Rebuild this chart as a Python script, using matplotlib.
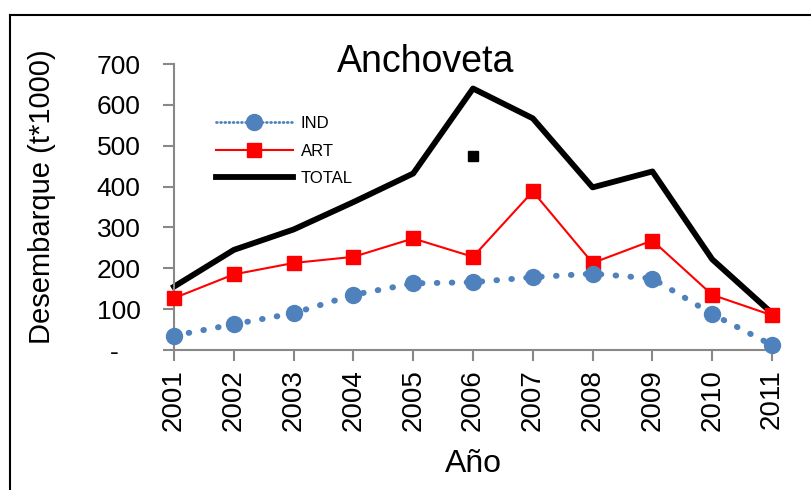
import matplotlib.pyplot as plt
from matplotlib.lines import Line2D

plt.rcParams['font.family'] = ['Liberation Sans', 'DejaVu Sans']

# datos
anios = [2001, 2002, 2003, 2004, 2005, 2006, 2007, 2008, 2009, 2010, 2011]
ind = [35, 63, 90, 135, 163, 166, 178, 187, 175, 88, 12]
art = [127, 185, 213, 228, 273, 228, 388, 213, 268, 135, 85]
total = [155, 245, 295, 362, 432, 640, 567, 398, 437, 222, 90]
punto_x = [2006]
punto_y = [475]
yticks = [0, 100, 200, 300, 400, 500, 600, 700]
ytick_labels = ['-   ', '100', '200', '300', '400', '500', '600', '700']

fig = plt.figure(figsize=(8.11, 4.9), dpi=100)
ax = fig.add_axes([174 / 811, 1 - 350 / 490, (772 - 174) / 811, (350 - 64) / 490])

# marco exterior
fig.add_artist(Line2D([10 / 811, 1], [1 - 15 / 490, 1 - 15 / 490], color='black', lw=1.5))
fig.add_artist(Line2D([10 / 811, 10 / 811], [0, 1 - 15 / 490], color='black', lw=1.5))

ax.plot(anios, total, color='black', lw=4.2, zorder=2, clip_on=False, label='TOTAL')
ax.plot(anios, art, color='#ff0000', lw=1.5, marker='s', markersize=9.5, zorder=3,
        clip_on=False, label='ART')
ax.plot(anios, ind, color='#4f81bd', lw=4.3, linestyle=(0, (0.1, 2.4)),
        dash_capstyle='round', marker='o', markersize=11.5, zorder=4,
        clip_on=False, label='IND')
ax.plot(punto_x, punto_y, 's', color='black', markersize=7, zorder=5)

ax.set_xlim(2001, 2011)
ax.set_ylim(0, 700)
ax.set_xticks(anios)
ax.set_xticklabels([str(a) for a in anios], rotation=90, fontsize=20)
ax.set_yticks(yticks)
ax.set_yticklabels(ytick_labels, fontsize=19)

for s in ['top', 'right']:
    ax.spines[s].set_visible(False)
for s in ['left', 'bottom']:
    ax.spines[s].set_color('#888888')
    ax.spines[s].set_linewidth(1.5)
ax.tick_params(axis='both', color='#888888', width=1.5, length=8, direction='out')
ax.tick_params(axis='x', pad=6)
ax.tick_params(axis='y', pad=16)

ax.set_ylabel('Desembarque (t*1000)', fontsize=21)
ax.yaxis.set_label_coords(-0.197, 0.535)
ax.set_xlabel('Año', fontsize=23, labelpad=13)
ax.set_title('Anchoveta', fontsize=27, x=0.42, y=0.943)

h, l = ax.get_legend_handles_labels()
leg = ax.legend([h[2], h[1], h[0]], [l[2], l[1], l[0]], loc='upper left',
                bbox_to_anchor=(0.045, 0.87), frameon=False, fontsize=12,
                handlelength=4.6, handletextpad=0.5, labelspacing=0.75)
leg.get_lines()[0].set_linestyle((0, (0.3, 1.2)))
leg.get_lines()[0].set_linewidth(2)

fig.savefig('out.png', dpi=100)
